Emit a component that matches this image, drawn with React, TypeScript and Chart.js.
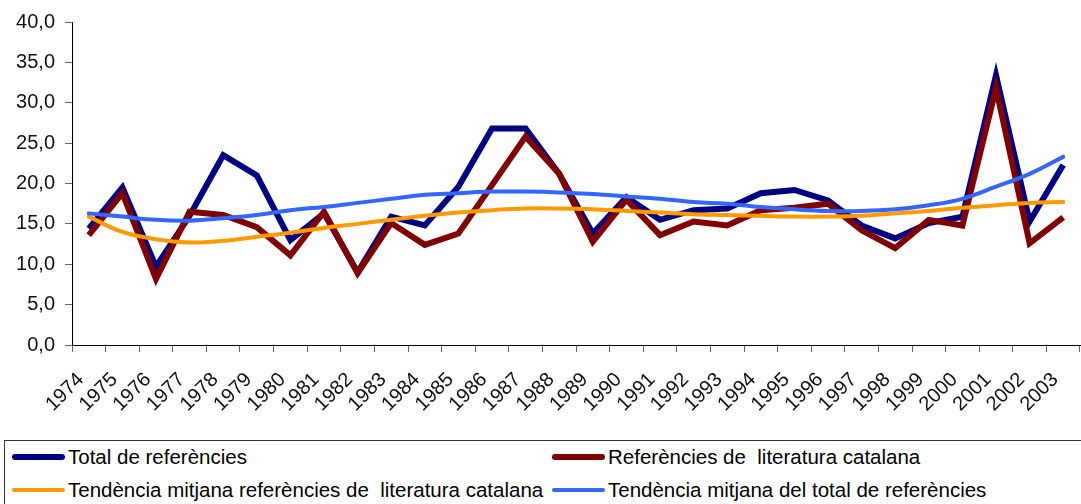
import React, { useEffect, useRef } from "react";
import { Chart, registerables } from "chart.js";

Chart.register(...registerables);

const years = [
  "1974", "1975", "1976", "1977", "1978", "1979", "1980", "1981", "1982", "1983",
  "1984", "1985", "1986", "1987", "1988", "1989", "1990", "1991", "1992", "1993",
  "1994", "1995", "1996", "1997", "1998", "1999", "2000", "2001", "2002", "2003",
];

const totalRefs = [
  14.4, 19.5, 9.7, 16.0, 23.5, 21.0, 13.0, 16.3, 9.0, 15.9,
  14.8, 19.6, 26.8, 26.8, 21.2, 13.8, 18.3, 15.5, 16.7, 16.9,
  18.8, 19.2, 17.9, 14.8, 13.2, 15.1, 15.9, 33.4, 15.3, 22.3,
];

const catalanRefs = [
  13.6, 18.8, 8.2, 16.5, 16.1, 14.6, 11.1, 16.5, 8.9, 15.1,
  12.4, 13.8, 19.8, 25.8, 21.2, 12.8, 18.0, 13.6, 15.3, 14.8,
  16.7, 17.0, 17.5, 14.2, 12.0, 15.5, 14.8, 31.8, 12.6, 15.8,
];

const catalanTrend = [
  15.9, 14.0, 13.1, 12.7, 12.9, 13.4, 13.9, 14.5, 15.0, 15.5,
  16.0, 16.4, 16.7, 16.9, 16.9, 16.8, 16.6, 16.4, 16.2, 16.1,
  16.0, 15.9, 15.9, 16.0, 16.3, 16.6, 17.0, 17.3, 17.6, 17.7,
];

const totalTrend = [
  16.3, 15.9, 15.5, 15.4, 15.7, 16.1, 16.7, 17.1, 17.6, 18.1,
  18.6, 18.8, 19.0, 19.0, 18.9, 18.7, 18.4, 18.1, 17.7, 17.5,
  17.1, 16.8, 16.6, 16.6, 16.8, 17.3, 18.1, 19.6, 21.2, 23.3,
];

const labels = {
  total: "Total de referències",
  catalan: "Referències de  literatura catalana",
  catalanTrend: "Tendència mitjana referències de  literatura catalana",
  totalTrend: "Tendència mitjana del total de referències",
};

const NAVY = "#000080";
const MAROON = "#800000";
const ORANGE = "#FF9900";
const BLUE = "#3366FF";
const FONT = "'Liberation Sans', Arial, sans-serif";

function LegendItem({ color, thick, text, left, top }: { color: string; thick: number; text: string; left: number; top: number }) {
  return (
    <div style={{ position: "absolute", left, top, height: 24, display: "flex", alignItems: "center", whiteSpace: "pre" }}>
      <div style={{ width: 53, height: thick, background: color, borderRadius: thick / 2, marginRight: 3 }} />
      <span style={{ fontFamily: FONT, fontSize: 20.5, color: "#000" }}>{text}</span>
    </div>
  );
}

export default function App() {
  const ref = useRef<HTMLCanvasElement | null>(null);

  useEffect(() => {
    if (!ref.current) return;
    const chart = new Chart(ref.current, {
      type: "line",
      data: {
        labels: years,
        datasets: [
          { label: labels.total, data: totalRefs, borderColor: NAVY, backgroundColor: NAVY, borderWidth: 6, pointRadius: 0, tension: 0, order: 3 },
          { label: labels.catalan, data: catalanRefs, borderColor: MAROON, backgroundColor: MAROON, borderWidth: 6, pointRadius: 0, tension: 0, order: 2 },
          { label: labels.catalanTrend, data: catalanTrend, borderColor: ORANGE, backgroundColor: ORANGE, borderWidth: 4, pointRadius: 0, tension: 0.4, borderCapStyle: "round", order: 1 },
          { label: labels.totalTrend, data: totalTrend, borderColor: BLUE, backgroundColor: BLUE, borderWidth: 4, pointRadius: 0, tension: 0.4, borderCapStyle: "round", order: 0 },
        ],
      },
      options: {
        animation: false,
        responsive: false,
        devicePixelRatio: 1,
        layout: { padding: { top: 22, right: 1, left: 0, bottom: 0 } },
        plugins: { legend: { display: false }, tooltip: { enabled: false } },
        scales: {
          x: {
            offset: true,
            grid: { display: true, drawOnChartArea: false, offset: true, tickLength: 7, color: "#666" },
            border: { color: "#000", width: 1 },
            ticks: { autoSkip: false, minRotation: 45, maxRotation: 45, padding: 16, labelOffset: -8, color: "#111", font: { family: FONT, size: 20 } },
            afterFit: (s: any) => { s.height = 95; s.paddingRight = 0; s.paddingLeft = 0; },
          },
          y: {
            min: 0,
            max: 40,
            grid: { display: true, drawOnChartArea: false, tickLength: 7, color: "#666" },
            border: { color: "#000", width: 1 },
            ticks: {
              stepSize: 5,
              padding: 10,
              color: "#111",
              font: { family: FONT, size: 20 },
              callback: (v: any) => Number(v).toFixed(1).replace(".", ","),
            },
            afterFit: (s: any) => { s.width = 72; },
          },
        },
      },
    });
    return () => chart.destroy();
  }, []);

  return (
    <div style={{ position: "fixed", left: 0, top: 0, width: 1081, height: 504, background: "#fff", overflow: "hidden" }}>
      <canvas ref={ref} width={1081} height={440} style={{ position: "absolute", left: 0, top: 0, width: 1081, height: 440 }} />
      <div style={{ position: "absolute", left: 4, top: 440, width: 1080, height: 70, border: "1px solid #333", boxSizing: "border-box" }} />
      <LegendItem color={NAVY} thick={6} text={labels.total} left={12} top={445} />
      <LegendItem color={MAROON} thick={6} text={labels.catalan} left={552} top={445} />
      <LegendItem color={ORANGE} thick={4} text={labels.catalanTrend} left={12} top={478} />
      <LegendItem color={BLUE} thick={4} text={labels.totalTrend} left={552} top={478} />
    </div>
  );
}
